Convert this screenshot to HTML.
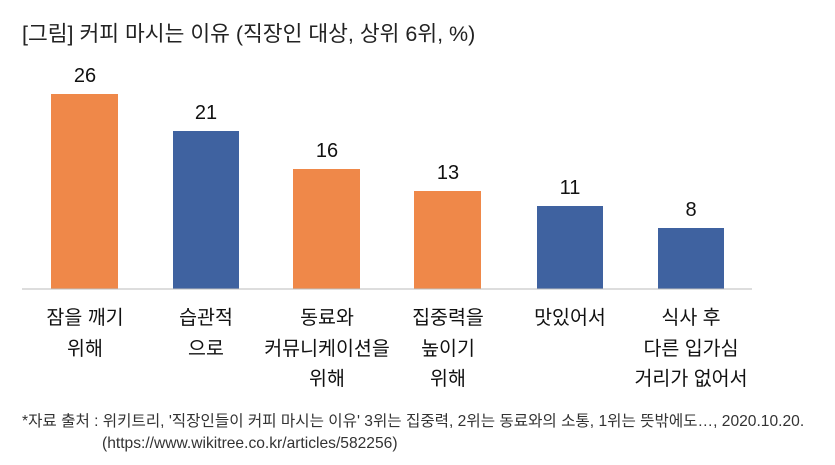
<!DOCTYPE html>
<html><head><meta charset="utf-8"><style>
body{margin:0;background:#fff;}
svg{display:block;font-family:"Liberation Sans","Noto Sans CJK KR",sans-serif;}
</style></head><body>
<svg width="835" height="465" viewBox="0 0 835 465" xmlns="http://www.w3.org/2000/svg">
<text x="22" y="41" font-size="21.5" fill="#222">[그림] 커피 마시는 이유 (직장인 대상, 상위 6위, %)</text>
<g>
<rect x="51" y="94" width="67" height="195" fill="#EF8849"/>
<rect x="173" y="131" width="66" height="158" fill="#3F62A0"/>
<rect x="293" y="169" width="67" height="120" fill="#EF8849"/>
<rect x="414" y="191" width="67" height="98" fill="#EF8849"/>
<rect x="537" y="206" width="66" height="83" fill="#3F62A0"/>
<rect x="658" y="228" width="66" height="61" fill="#3F62A0"/>
</g>
<line x1="22" y1="289" x2="752" y2="289" stroke="#bbb" stroke-width="1"/>
<g font-size="20" fill="#111" text-anchor="middle">
<text x="85" y="82">26</text>
<text x="206" y="119">21</text>
<text x="327" y="157">16</text>
<text x="448" y="179">13</text>
<text x="570" y="194">11</text>
<text x="691" y="216">8</text>
</g>
<g font-size="19.5" fill="#111" text-anchor="middle">
<text x="85" y="324">잠을 깨기</text><text x="85" y="355">위해</text>
<text x="206" y="324">습관적</text><text x="206" y="355">으로</text>
<text x="327" y="324">동료와</text><text x="327" y="355">커뮤니케이션을</text><text x="327" y="385">위해</text>
<text x="448" y="324">집중력을</text><text x="448" y="355">높이기</text><text x="448" y="385">위해</text>
<text x="570" y="324">맛있어서</text>
<text x="691" y="324">식사 후</text><text x="691" y="355">다른 입가심</text><text x="691" y="385">거리가 없어서</text>
</g>
<g font-size="15.6" fill="#333">
<text x="22" y="426">*자료 출처 : 위키트리, '직장인들이 커피 마시는 이유' 3위는 집중력, 2위는 동료와의 소통, 1위는 뜻밖에도…, 2020.10.20.</text>
<text x="102" y="448">(https://www.wikitree.co.kr/articles/582256)</text>
</g>
</svg>
</body></html>
